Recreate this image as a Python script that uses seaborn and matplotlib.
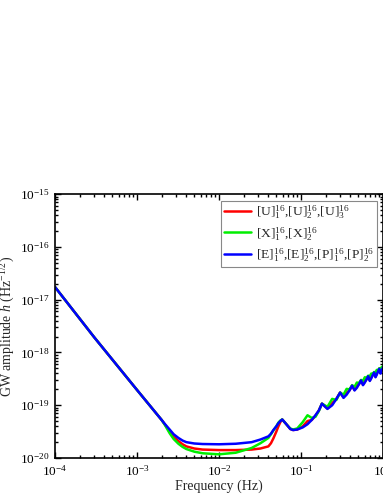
import numpy as np
import pandas as pd
import matplotlib
matplotlib.use("Agg")
import matplotlib.pyplot as plt
import seaborn as sns
from matplotlib.ticker import LogLocator

# ---- data ----
freq = [1e-4, 3e-4, 1e-3, 2e-3, 2.2e-3, 2.5e-3, 2.8e-3, 3.2e-3, 3.6e-3, 4e-3, 5e-3,
        6.3e-3, 1e-2, 1.6e-2, 2.5e-2, 3.2e-2, 4e-2, 4.3e-2, 4.6e-2, 5.0e-2, 5.3e-2,
        5.6e-2, 5.9e-2, 6.3e-2, 6.8e-2, 7.4e-2, 8.0e-2, 9.0e-2,
        0.105, 0.12, 0.135, 0.15, 0.165, 0.18, 0.21, 0.24, 0.27, 0.30, 0.33,
        0.36, 0.39, 0.42, 0.45, 0.48, 0.51, 0.54, 0.57, 0.60, 0.63, 0.66, 0.69,
        0.72, 0.75, 0.78, 0.81, 0.84, 0.87, 0.90, 0.93, 0.96, 1.0]

log_h_U = [-16.76, -17.71, -18.71, -19.28, -19.37, -19.50, -19.60, -19.68, -19.74, -19.78, -19.82,
           -19.84, -19.85, -19.85, -19.84, -19.82, -19.78, -19.72, -19.63, -19.50, -19.40,
           -19.32, -19.27, -19.32, -19.38, -19.45, -19.47, -19.46,
           -19.40, -19.30, -19.28, -19.20, -19.10, -18.97, -19.06, -18.96, -18.88, -18.76, -18.85,
           -18.76, -18.72, -18.63, -18.71, -18.64, -18.60, -18.53, -18.61, -18.55, -18.51, -18.45, -18.53,
           -18.47, -18.43, -18.38, -18.46, -18.40, -18.36, -18.31, -18.39, -18.33, -18.28]

log_h_X = [-16.76, -17.71, -18.71, -19.28, -19.38, -19.53, -19.64, -19.73, -19.79, -19.83, -19.88,
           -19.91, -19.93, -19.90, -19.81, -19.72, -19.62, -19.55, -19.48, -19.40, -19.33,
           -19.29, -19.27, -19.32, -19.38, -19.44, -19.46, -19.44,
           -19.32, -19.19, -19.24, -19.22, -19.11, -18.97, -19.03, -18.88, -18.90, -18.76, -18.80,
           -18.69, -18.70, -18.62, -18.65, -18.57, -18.58, -18.52, -18.54, -18.47, -18.48, -18.44, -18.45,
           -18.40, -18.40, -18.37, -18.38, -18.33, -18.34, -18.30, -18.32, -18.28, -18.26]

log_h_EP = [-16.76, -17.71, -18.71, -19.28, -19.36, -19.46, -19.55, -19.62, -19.67, -19.70, -19.725,
            -19.735, -19.74, -19.73, -19.70, -19.65, -19.59, -19.54, -19.47, -19.40, -19.34,
            -19.30, -19.27, -19.32, -19.38, -19.45, -19.47, -19.46,
            -19.42, -19.36, -19.28, -19.19, -19.10, -18.97, -19.07, -19.00, -18.88, -18.76, -18.86,
            -18.80, -18.72, -18.63, -18.72, -18.67, -18.60, -18.53, -18.62, -18.57, -18.51, -18.45, -18.54,
            -18.49, -18.43, -18.38, -18.47, -18.42, -18.36, -18.31, -18.40, -18.35, -18.28]

labels = [r"$[\mathrm{U}]_1^{16}$,$[\mathrm{U}]_2^{16}$,$[\mathrm{U}]_3^{16}$",
          r"$[\mathrm{X}]_1^{16}$,$[\mathrm{X}]_2^{16}$",
          r"$[\mathrm{E}]_1^{16}$,$[\mathrm{E}]_2^{16}$,$[\mathrm{P}]_1^{16}$,$[\mathrm{P}]_2^{16}$"]
colors = ["#ff0000", "#00ee00", "#0000ff"]

# ---- style ----
sns.set_style("ticks")
plt.rcParams["font.family"] = ["Liberation Serif", "DejaVu Serif"]
plt.rcParams["mathtext.fontset"] = "custom"
plt.rcParams["mathtext.rm"] = "Liberation Serif"
plt.rcParams["mathtext.it"] = "Liberation Serif:italic"
plt.rcParams["mathtext.bf"] = "Liberation Serif:bold"

fig = plt.figure(figsize=(3.83, 4.96), dpi=100)
ax = fig.add_axes([0.1436, 0.0766, 0.8564, 0.532])
ax.set_xscale("log")
ax.set_yscale("log")

series = [log_h_U, log_h_X, log_h_EP]
for vals, lab, col in zip(series, labels, colors):
    df = pd.DataFrame({"f": freq, "h": 10.0 ** np.array(vals)})
    sns.lineplot(data=df, x="f", y="h", ax=ax, color=col, lw=1.8,
                 label=lab, estimator=None, sort=False)

ax.set_xlim(1e-4, 1)
ax.set_ylim(1e-20, 1e-15)
ax.set_xlabel("Frequency (Hz)", fontsize=10, labelpad=1)
ax.set_ylabel(r"GW amplitude $h$ (Hz$^{-1/2}$)", fontsize=10, labelpad=2)

ax.xaxis.set_major_locator(LogLocator(base=10, numticks=10))
ax.yaxis.set_major_locator(LogLocator(base=10, numticks=10))
ax.xaxis.set_minor_locator(LogLocator(base=10, subs=np.arange(2, 10), numticks=20))
ax.yaxis.set_minor_locator(LogLocator(base=10, subs=np.arange(2, 10), numticks=20))
ax.tick_params(which="both", direction="in", top=True, right=True, colors="black",
               labelsize=9.5, width=1.0)
ax.tick_params(which="major", length=4.5, pad=4)
ax.tick_params(which="minor", length=2.5)
for s in ax.spines.values():
    s.set_linewidth(1.2)
    s.set_color("black")

leg = ax.legend(loc="upper right", bbox_to_anchor=(0.982, 0.975), borderaxespad=0,
                fontsize=9.7, frameon=True, fancybox=False, framealpha=1,
                edgecolor="#888888", handlelength=2.0, handletextpad=0.4,
                labelspacing=0.28, borderpad=0.2)
leg.get_frame().set_linewidth(0.8)

fig.savefig("out.png", dpi=100)
